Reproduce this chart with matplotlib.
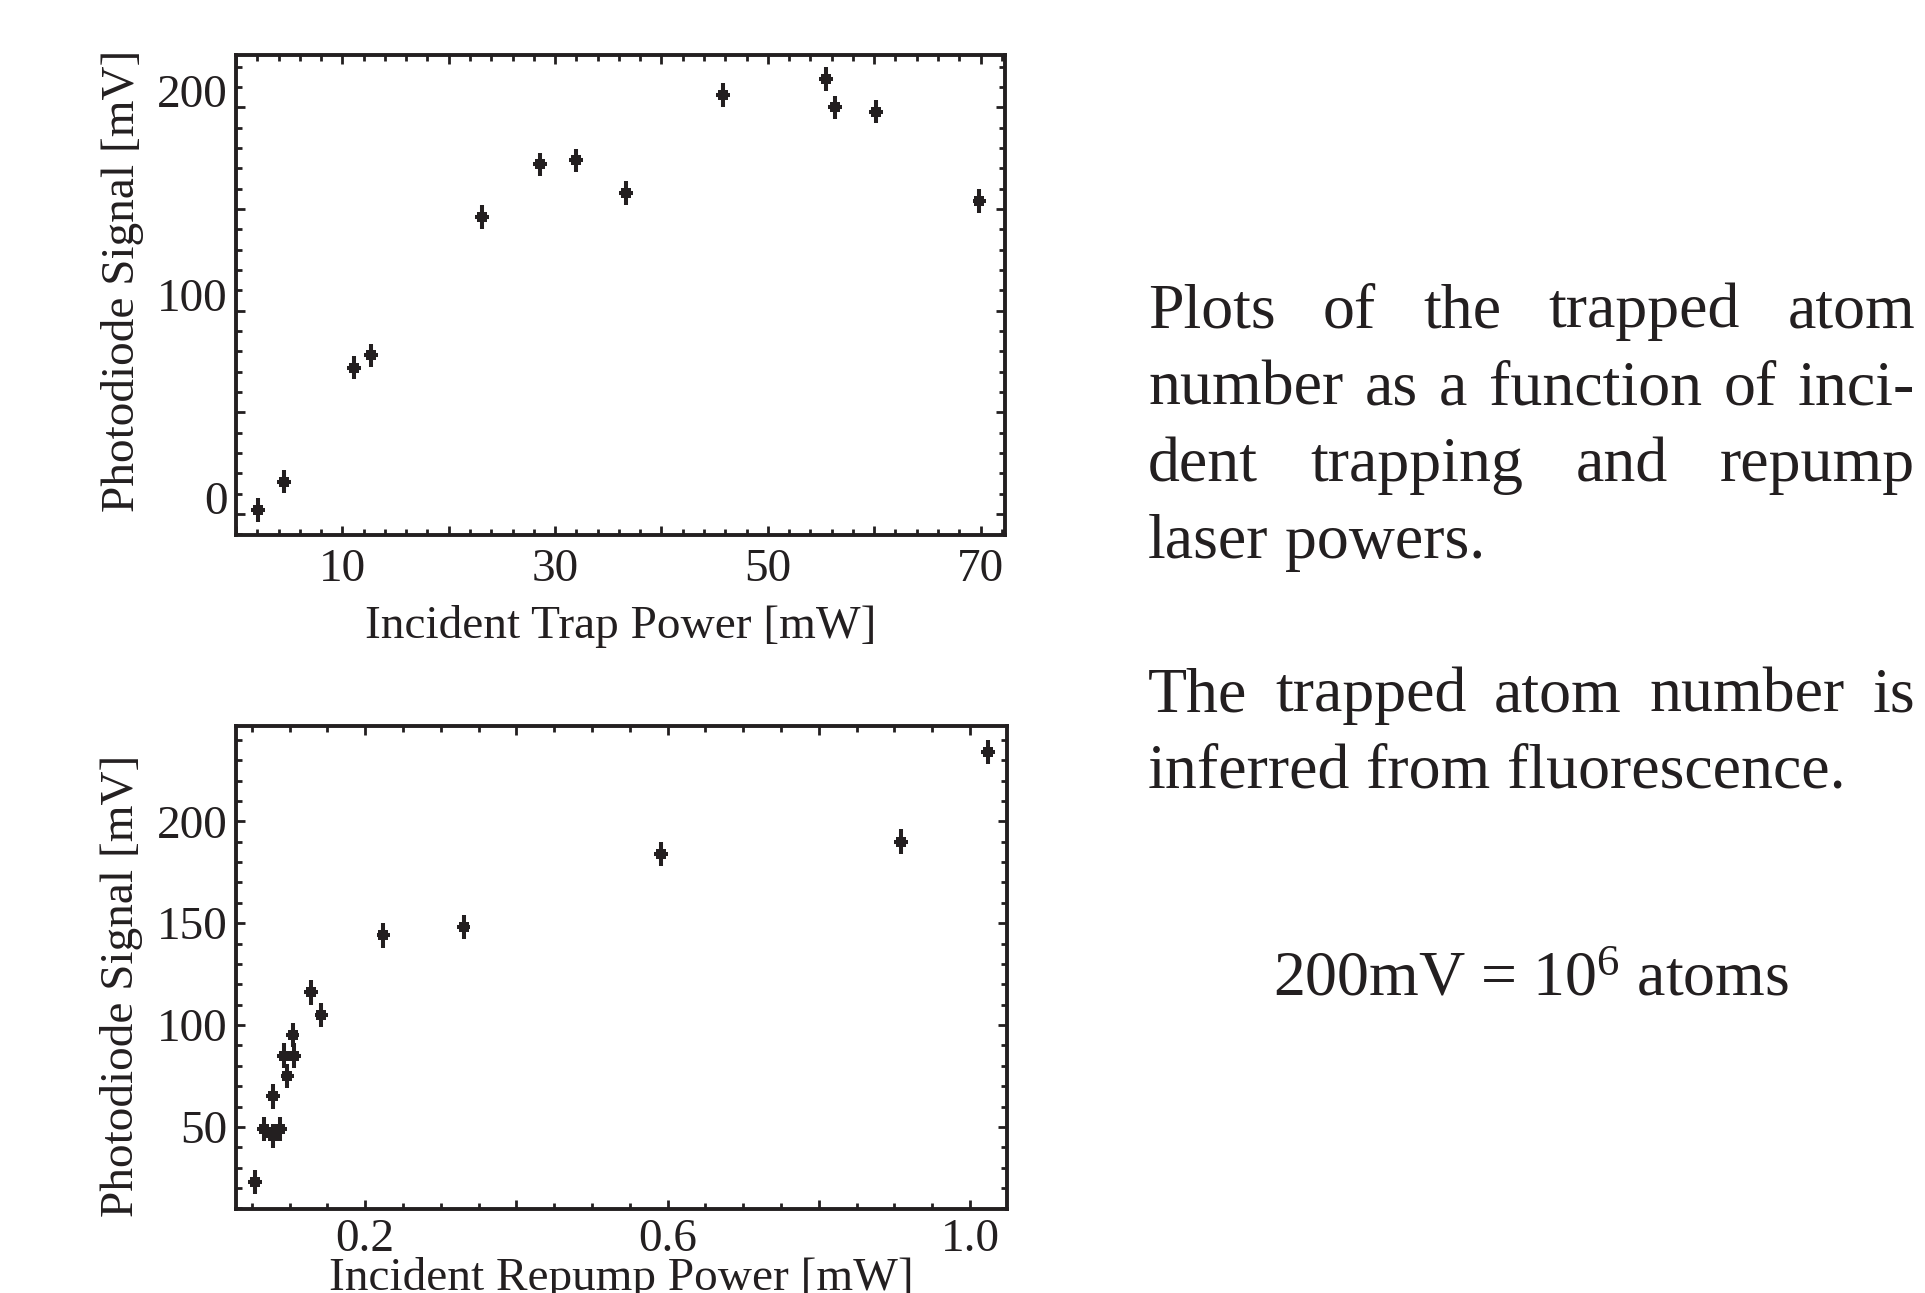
import matplotlib
matplotlib.use("Agg")
import matplotlib.pyplot as plt
from matplotlib.ticker import MultipleLocator, FuncFormatter

plt.rcParams['font.family'] = ['Liberation Serif', 'DejaVu Serif']
plt.rcParams['mathtext.default'] = 'regular'

INK = '#231f20'
W, H = 1925, 1293

# top panel: signal vs incident trap power
trap_power = [2.1, 4.5, 11.1, 12.7, 23.1, 28.6, 32.0, 36.7, 45.8, 55.5, 56.3, 60.2, 69.9]
trap_signal = [2, 16, 72, 78, 146, 172, 174, 158, 206, 214, 200, 198, 154]
trap_xerr = 0.65
trap_yerr = 5.8

# bottom panel: signal vs incident repump power
repump_power = [0.054, 0.066, 0.078, 0.087, 0.078, 0.097, 0.092, 0.106,
                0.104, 0.128, 0.142, 0.224, 0.330, 0.591, 0.909, 1.024]
repump_signal = [23, 49, 45.5, 49, 65, 75, 85, 85,
                 95, 116, 105, 144, 148, 184, 190, 234]
repump_xerr = 0.009
repump_yerr = 6

ylabel = 'Photodiode Signal [mV]'
xlabel_top = 'Incident Trap Power [mW]'
xlabel_bot = 'Incident Repump Power [mW]'

para1 = [('Plots of the trapped atom', True),
         ('number as a function of inci-', True),
         ('dent trapping and repump', True),
         ('laser powers.', False)]
para2 = [('The trapped atom number is', True),
         ('inferred from fluorescence.', False)]
note = r'200mV = 10$^{6}$ atoms'

fig = plt.figure(figsize=(W / 100, H / 100), dpi=100)


def frac(x0, y0, x1, y1):
    # pixel box -> figure fraction rect
    return [x0 / W, 1 - y1 / H, (x1 - x0) / W, (y1 - y0) / H]


def style(ax, xmaj, xmin, ymaj, ymin, xfmt, yfmt, xpad, yva):
    ax.xaxis.set_major_locator(MultipleLocator(xmaj))
    ax.xaxis.set_minor_locator(MultipleLocator(xmin))
    ax.yaxis.set_major_locator(MultipleLocator(ymaj))
    ax.yaxis.set_minor_locator(MultipleLocator(ymin))
    ax.xaxis.set_major_formatter(FuncFormatter(xfmt))
    ax.yaxis.set_major_formatter(FuncFormatter(yfmt))
    ax.tick_params(which='both', direction='in', top=True, right=True,
                   width=2, color=INK, labelsize=34, labelcolor=INK)
    ax.tick_params(which='major', length=6.5)
    ax.tick_params(which='minor', length=4.3)
    ax.tick_params(axis='x', pad=xpad)
    ax.tick_params(axis='y', pad=6)
    for s in ax.spines.values():
        s.set_linewidth(2.8)
        s.set_color(INK)
    for t in ax.yaxis.get_major_ticks():
        t.label1.set_va(yva)


def points(ax, x, y, xe, ye):
    ax.errorbar(x, y, xerr=xe, yerr=ye, fmt='s', ms=7.5, mew=0, color=INK,
                ecolor=INK, elinewidth=2.9, capsize=3.8, capthick=2.9)


ax1 = fig.add_axes(frac(236, 55, 1005, 535))
points(ax1, trap_power, trap_signal, trap_xerr, trap_yerr)
ax1.set_xlim(0, 72.3)
ax1.set_ylim(-10.3, 225.8)
style(ax1, 10, 2, 50, 10,
      lambda v, p: f'{v:.0f}' if round(v) % 20 == 10 else '',
      lambda v, p: f'{v:.0f}' if round(v) % 100 == 0 else '', 10, 'baseline')
ax1.set_xlabel(xlabel_top, fontsize=34, color=INK)
ax1.set_ylabel(ylabel, fontsize=34, color=INK)
ax1.xaxis.set_label_coords(0.5, -0.145)
ax1.yaxis.set_label_coords(-0.12, 0.53)

ax2 = fig.add_axes(frac(236, 726, 1007, 1209))
points(ax2, repump_power, repump_signal, repump_xerr, repump_yerr)
ax2.set_xlim(0.029, 1.049)
ax2.set_ylim(9.7, 246.8)
style(ax2, 0.2, 0.05, 50, 10,
      lambda v, p: f'{v:.1f}' if round(v * 10) % 4 == 2 else '',
      lambda v, p: f'{v:.0f}', 7, 'center_baseline')
ax2.set_xlabel(xlabel_bot, fontsize=34, color=INK)
ax2.set_ylabel(ylabel, fontsize=34, color=INK)
ax2.xaxis.set_label_coords(0.5, -0.1)
ax2.yaxis.set_label_coords(-0.12, 0.461)

# justified text block on the right
renderer = fig.canvas.get_renderer()
X0, X1 = 1148, 1915
TS = 46
helpers = []


def width_of(s):
    t = fig.text(0, 0, s, fontsize=TS)
    helpers.append(t)
    return t.get_window_extent(renderer).width


SPACE = width_of('a a') - 2 * width_of('a')


def put_line(text, y_px, justify):
    words = text.split(' ')
    objs = [fig.text(0, 0, w, fontsize=TS, color=INK, va='baseline') for w in words]
    widths = [o.get_window_extent(renderer).width for o in objs]
    if justify and len(words) > 1:
        gap = (X1 - X0 - sum(widths)) / (len(words) - 1)
    else:
        gap = SPACE
    x = X0
    for o, w in zip(objs, widths):
        o.set_position((x / W, 1 - y_px / H))
        x += w + gap


for (line, j), y in zip(para1, [327, 404, 481, 558]):
    put_line(line, y, j)
for (line, j), y in zip(para2, [711, 788]):
    put_line(line, y, j)

for t in helpers:
    t.remove()

fig.text(1531 / W, 1 - 996 / H, note, fontsize=TS, color=INK, ha='center', va='baseline')

fig.savefig('out.png', dpi=100, facecolor='white')
